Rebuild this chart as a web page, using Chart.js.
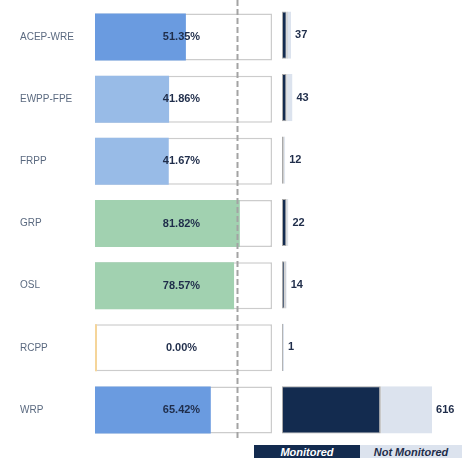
<!DOCTYPE html>
<html>
<head>
<meta charset="utf-8">
<script src="https://cdn.jsdelivr.net/npm/chart.js@4/dist/chart.umd.min.js"></script>
<style>
  body { margin: 0; background: #fff; }
  #wrap { position: relative; width: 462px; height: 458px; overflow: hidden; font-family: "Liberation Sans", Arial, sans-serif; }
  #leftBox { position: absolute; left: 0; top: 0; width: 280px; height: 458px; }
  #rightBox { position: absolute; left: 276px; top: 0; width: 186px; height: 458px; }
  .leg { position: absolute; top: 445px; height: 16px; font-size: 11px; font-weight: bold; font-style: italic; text-align: center; line-height: 15px; }
  #legMon { left: 254px; width: 106px; background: #132b4f; color: #fff; }
  #legNot { left: 360px; width: 102px; background: #dce3ee; color: #1f2d4a; }
</style>
</head>
<body>
<div id="wrap">
  <div id="leftBox"><canvas id="chartPct"></canvas></div>
  <div id="rightBox"><canvas id="chartCount"></canvas></div>
  <div class="leg" id="legMon">Monitored</div>
  <div class="leg" id="legNot">Not Monitored</div>
</div>
<script>
// data
var programs = ["ACEP-WRE", "EWPP-FPE", "FRPP", "GRP", "OSL", "RCPP", "WRP"];
var pctMonitored = [51.35, 41.86, 41.67, 81.82, 78.57, 0.00, 65.42];
var totals = [37, 43, 12, 22, 14, 1, 616];
var monitored = [19, 18, 5, 18, 11, 0, 403];
var target = 80; // dashed line

var barColors = ["#6a9be0", "#98bbe7", "#98bbe7", "#a1d1b0", "#a1d1b0", "#f5d59a", "#6a9be0"];
var notMonitored = totals.map(function (t, i) { return t - monitored[i]; });
var fullScale = programs.map(function () { return 100; });

var labelColor = "#1f2d4a";

// dashed target line + % labels
var pctLabels = {
  id: "pctLabels",
  afterDatasetsDraw: function (chart) {
    var ctx = chart.ctx;
    var xs = chart.scales.x;
    var x = Math.round(xs.getPixelForValue(target)) + 0.5;
    ctx.save();
    ctx.strokeStyle = "#a3a3a3";
    ctx.lineWidth = 2;
    ctx.setLineDash([6, 3]);
    ctx.beginPath();
    ctx.moveTo(x, 0);
    ctx.lineTo(x, chart.chartArea.bottom);
    ctx.stroke();
    ctx.setLineDash([]);
    ctx.font = "bold 11px 'Liberation Sans', Arial, sans-serif";
    ctx.fillStyle = labelColor;
    ctx.textAlign = "center";
    ctx.textBaseline = "middle";
    var meta = chart.getDatasetMeta(1);
    var cx = (xs.getPixelForValue(0) + xs.getPixelForValue(100)) / 2 - 2;
    meta.data.forEach(function (bar, i) {
      ctx.fillText(pctMonitored[i].toFixed(2) + "%", cx, bar.y);
    });
    ctx.restore();
  }
};

new Chart(document.getElementById("chartPct"), {
  type: "bar",
  data: {
    labels: programs,
    datasets: [
      {
        data: pctMonitored,
        backgroundColor: barColors,
        borderWidth: 0,
        minBarLength: 2,
        grouped: false,
        order: 0
      },
      {
        data: fullScale,
        backgroundColor: "#ffffff",
        borderColor: "#cccccc",
        borderWidth: 1.5,
        borderSkipped: false,
        grouped: false,
        order: 1
      }
    ]
  },
  options: {
    indexAxis: "y",
    responsive: true,
    maintainAspectRatio: false,
    animation: false,
    events: [],
    barPercentage: 0.86,
    categoryPercentage: 0.88,
    layout: { padding: { left: 20, right: 8, top: 4, bottom: 17 } },
    plugins: { legend: { display: false }, tooltip: { enabled: false } },
    scales: {
      x: { display: false, min: 0, max: 100 },
      y: {
        grid: { display: false, drawTicks: false },
        border: { display: false },
        ticks: {
          crossAlign: "far",
          padding: 0,
          color: "#5b6a80",
          font: { family: "'Liberation Sans', Arial, sans-serif", size: 10 }
        },
        afterFit: function (scale) { scale.width = 75; }
      }
    }
  },
  plugins: [pctLabels]
});

// total labels at the end of each bar
var totalLabels = {
  id: "totalLabels",
  afterDatasetsDraw: function (chart) {
    var ctx = chart.ctx;
    var meta = chart.getDatasetMeta(1);
    ctx.save();
    ctx.font = "bold 11px 'Liberation Sans', Arial, sans-serif";
    ctx.fillStyle = labelColor;
    ctx.textAlign = "left";
    ctx.textBaseline = "middle";
    meta.data.forEach(function (bar, i) {
      ctx.fillText(String(totals[i]), bar.x + 4, bar.y);
    });
    ctx.restore();
  }
};

new Chart(document.getElementById("chartCount"), {
  type: "bar",
  data: {
    labels: programs,
    datasets: [
      {
        label: "Monitored",
        data: monitored,
        backgroundColor: "#132b4f",
        borderColor: "#a9a9a9",
        borderWidth: 1,
        borderSkipped: false
      },
      {
        label: "Not Monitored",
        data: notMonitored,
        backgroundColor: "#dce3ee",
        borderColor: "#b4b4b4",
        borderWidth: { left: 1, right: 0, top: 0, bottom: 0 },
        borderSkipped: false,
        minBarLength: 2
      }
    ]
  },
  options: {
    indexAxis: "y",
    responsive: true,
    maintainAspectRatio: false,
    animation: false,
    events: [],
    barPercentage: 0.86,
    categoryPercentage: 0.88,
    layout: { padding: { left: 6, right: 9.5, top: 4, bottom: 17 } },
    plugins: { legend: { display: false }, tooltip: { enabled: false } },
    scales: {
      x: { display: false, stacked: true, min: 0, max: 700 },
      y: { display: false, stacked: true }
    }
  },
  plugins: [totalLabels]
});
</script>
</body>
</html>
